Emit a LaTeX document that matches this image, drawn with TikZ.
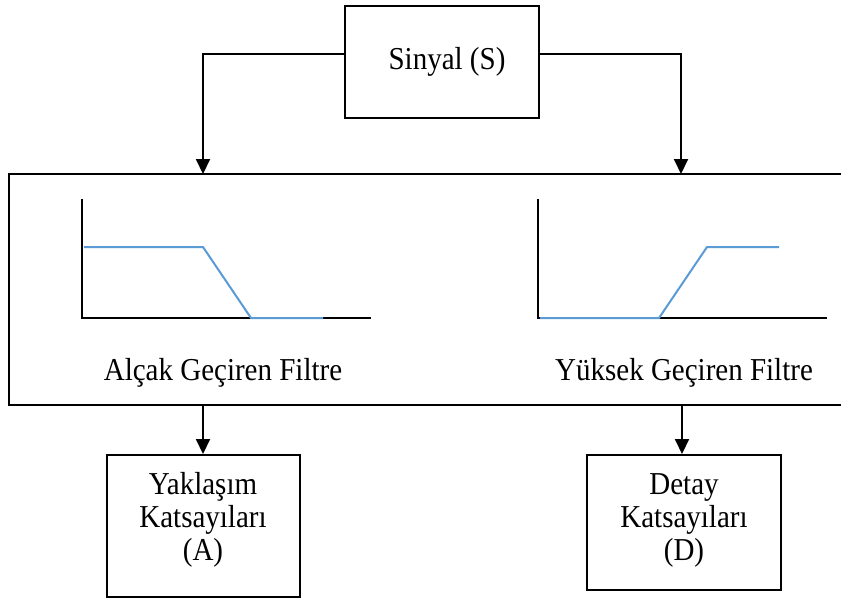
\documentclass[tikz,border=0pt]{standalone}
\usepackage{fontspec}
\setmainfont{Liberation Serif}
\usetikzlibrary{arrows.meta}
\definecolor{respblue}{RGB}{91,155,213}
\newcommand\lblfont{\fontsize{29}{33}\selectfont}
\newcommand\tall[1]{\scalebox{1}[1.1]{#1}}
\tikzset{
  blockbox/.style={draw, line width=2pt, inner sep=0pt, fill=white},
  lbl/.style={inner sep=0pt, align=center, font=\lblfont},
  arr/.style={line width=2pt, -{Triangle[width=14pt,length=15pt]}},
  axisline/.style={line width=2pt, line cap=butt},
  resp/.style={line width=2pt, draw=respblue, line join=miter},
}
\begin{document}
\begin{tikzpicture}[x=1pt, y=-1pt]
\useasboundingbox (0,0) rectangle (841,598);

% input signal
\node[blockbox, minimum width=194pt, minimum height=112pt] (sig) at (442,62) {};
\node[lbl] (sigtxt) at (447,62) {\tall{Sinyal (S)}};

% filter bank
\node[blockbox, minimum width=836pt, minimum height=231pt] (bank) at (427,289.5) {};
\coordinate (lowin) at (203,174);
\coordinate (highin) at (681,174);
\draw[arr] ([yshift=8pt]sig.west) -| (lowin);
\draw[arr] ([yshift=8pt]sig.east) -| (highin);

% low-pass response
\draw[axisline] (82,199) -- (82,318) -- (371,318);
\draw[resp] (84,247) -- (203,247) -- (251,318) -- (323,318);
\node[lbl] (lptxt) at (223,373) {\tall{Alçak Geçiren Filtre}};

% high-pass response
\draw[axisline] (538,199) -- (538,318) -- (827,318);
\draw[resp] (540,318) -- (659,318) -- (707,247) -- (779,247);
\node[lbl] (hptxt) at (684,373) {\tall{Yüksek Geçiren Filtre}};

% coefficient outputs
\node[blockbox, minimum width=193pt, minimum height=142pt] (approx) at (203.5,526) {};
\node[lbl] (approxtxt) at (203,520) {\tall{Yaklaşım}\\\tall{Katsayıları}\\\tall{(A)}};
\node[blockbox, minimum width=194pt, minimum height=135pt] (detail) at (684,522.5) {};
\node[lbl] (detailtxt) at (684,520) {\tall{Detay}\\\tall{Katsayıları}\\\tall{(D)}};

\coordinate (lowout) at (203,405);
\coordinate (highout) at (682,405);
\draw[arr] (lowout) -- (lowout |- approx.north);
\draw[arr] (highout) -- (highout |- detail.north);
\end{tikzpicture}
\end{document}
